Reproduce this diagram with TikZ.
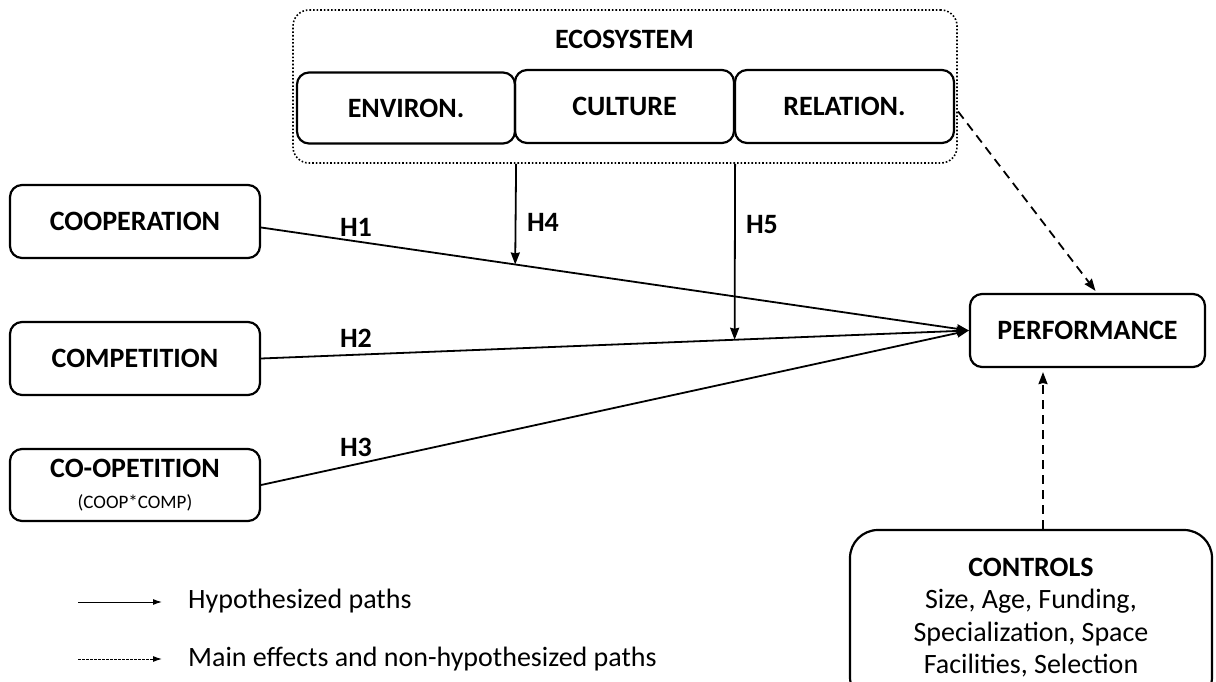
\documentclass[tikz,border=0pt]{standalone}
\usepackage{fontspec}
\setmainfont{Carlito}
\usetikzlibrary{arrows.meta,calc}
\begin{document}
\begin{tikzpicture}[x=1pt,y=-1pt,
  box/.style={draw,line width=2.2pt,rounded corners=12pt,inner sep=0pt,align=center,font=\fontsize{28}{32}\selectfont\bfseries},
  conn/.style={line width=1.8pt,-{Stealth[length=12pt,width=9pt,inset=1pt]}},
  dconn/.style={conn,dash pattern=on 9pt off 6pt},
  lbl/.style={font=\fontsize{28}{32}\selectfont\bfseries,inner sep=0pt},
  legtext/.style={anchor=west,inner sep=0pt,font=\fontsize{28}{32}\selectfont},
  legarrow/.style={line width=1pt,-{Latex[length=9pt,width=6pt]}},
  ]
\useasboundingbox (0,0) rectangle (1216,682);

% ecosystem
\node[draw,line width=1.6pt,dotted,rounded corners=16pt,minimum width=664pt,minimum height=153pt] (eco) at (625,86.5) {};
\node[lbl] (ecolbl) at (624.5,39) {ECOSYSTEM};
\node[box,minimum width=218pt,minimum height=71pt] (env) at (406,108) {ENVIRON.};
\node[box,minimum width=219pt,minimum height=73pt] (cul) at (624.5,106.5) {CULTURE};
\node[box,minimum width=219pt,minimum height=73pt] (rel) at (844.5,106.5) {RELATION.};

% left boxes
\node[box,minimum width=250pt,minimum height=73pt] (coop) at (135,221.5) {COOPERATION};
\node[box,minimum width=250pt,minimum height=73pt] (comp) at (135,358.5) {COMPETITION};
\node[box,minimum width=250pt,minimum height=72pt] (coopet) at (135,485) {CO-OPETITION\\[-1pt]{\fontsize{19}{21}\selectfont\mdseries (COOP*COMP)}};

% performance
\node[box,minimum width=235pt,minimum height=73pt] (perf) at (1087.5,330.5) {PERFORMANCE};

% controls
\node[draw,line width=2.2pt,rounded corners=28pt,minimum width=362pt,minimum height=175pt,inner sep=0pt,align=center,font=\fontsize{28}{32.5}\selectfont] (ctrl) at (1031,617.5) {\textbf{CONTROLS}\\Size, Age, Funding,\\Specialization, Space\\Facilities, Selection};

% hypothesized paths
\coordinate (c1) at ($(coop.east)+(0,6)$);
\draw[conn] (c1) -- (perf.west);
\draw[conn] (comp.east) -- (perf.west);
\draw[conn] (coopet.east) -- (perf.west);
\coordinate (h4) at ($(c1)!0.359!(perf.west)$);
\coordinate (h5) at ($(comp.east)!0.669!(perf.west)$);
\draw[conn] (eco.south -| env.east) -- (h4);
\draw[conn] (eco.south -| cul.east) -- (h5);

\node[lbl] (H1) at (356,227) {H1};
\node[lbl] (H2) at (356,338) {H2};
\node[lbl] (H3) at (356,447) {H3};
\node[lbl] (H4) at (543,222) {H4};
\node[lbl] (H5) at (762,225) {H5};

% dashed paths
\draw[dconn] ($(rel.east)+(3,5)$) -- ($(perf.north)+(8,-2)$);
\coordinate (cx) at ($(ctrl.north)+(12,0)$);
\draw[dconn] (cx) -- ($(cx |- perf.south)+(0,4)$);

% legend
\coordinate (l1a) at (78,602);
\coordinate (l1b) at (162,602);
\coordinate (l2a) at (78,659);
\coordinate (l2b) at (162,659);
\draw[legarrow] (l1a) -- (l1b);
\draw[legarrow,dash pattern=on 2.5pt off 1.5pt] (l2a) -- (l2b);
\node[legtext] (t1) at (188,601) {Hypothesized paths};
\node[legtext] (t2) at (188,659) {Main effects and non-hypothesized paths};
\end{tikzpicture}
\end{document}
